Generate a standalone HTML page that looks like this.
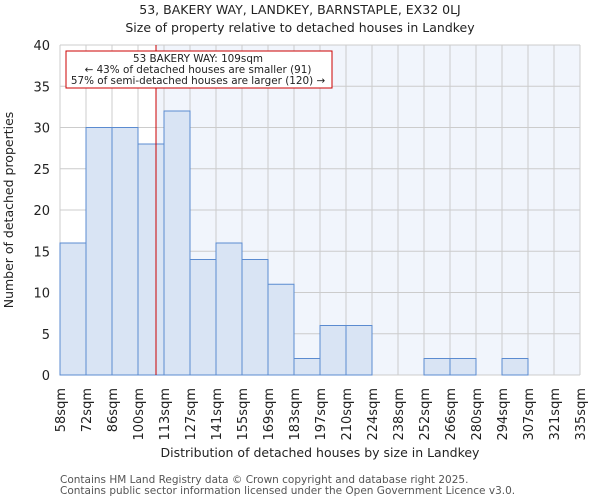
<!DOCTYPE html>
<html><head><meta charset="utf-8"><style>
body{margin:0;background:#fff;font-family:"DejaVu Sans","Liberation Sans",sans-serif}
</style></head><body>
<svg width="600" height="500" xmlns="http://www.w3.org/2000/svg" font-family="DejaVu Sans, Liberation Sans, sans-serif">
<g id="root"></g>
</svg>
<script>
const categories=["58sqm","72sqm","86sqm","100sqm","113sqm","127sqm","141sqm","155sqm","169sqm","183sqm","197sqm","210sqm","224sqm","238sqm","252sqm","266sqm","280sqm","294sqm","307sqm","321sqm","335sqm"];
const counts=[16,30,30,28,32,14,16,14,11,2,6,6,0,0,2,2,0,2,0,0];
const yTicks=[0,5,10,15,20,25,30,35,40];
const binEdges=[58,72,86,100,113,127,141,155,169,183,197,210,224,238,252,266,280,294,307,321,335];
const propertySize=109;
const NS="http://www.w3.org/2000/svg";
const root=document.getElementById('root');
const L=60,R=580,T=45,B=375,yMax=40;
const nb=counts.length,bw=(R-L)/nb;
const xIdx=i=>L+i*bw;
const yS=v=>B-(v/yMax)*(B-T);
function xVal(v){for(let i=0;i<binEdges.length-1;i++){if(v<=binEdges[i+1])return xIdx(i)+(v-binEdges[i])/(binEdges[i+1]-binEdges[i])*bw;}return R;}
function mk(tag,attrs,text){const e=document.createElementNS(NS,tag);for(const k in attrs)e.setAttribute(k,attrs[k]);if(text!==undefined)e.textContent=text;root.appendChild(e);return e;}
const px=xVal(propertySize);
let e=mk('rect',{x:px,y:T,width:R-px,height:B-T,fill:'#f1f5fc'});

for(let i=0;i<=nb;i++){e=mk('line',{x1:xIdx(i),x2:xIdx(i),y1:T,y2:B,stroke:'#cccccc','stroke-width':1});
}
yTicks.forEach(t=>{e=mk('line',{x1:L,x2:R,y1:yS(t),y2:yS(t),stroke:'#cccccc','stroke-width':1});

e=mk('text',{x:L-10,y:yS(t)+5,'text-anchor':'end','font-size':13,fill:'#222'},String(t));
});
counts.forEach((c,i)=>{if(c<=0)return;e=mk('rect',{x:xIdx(i),y:yS(c),width:bw,height:B-yS(c),fill:'#d9e4f4',stroke:'#5b8bd0','stroke-width':1});
});
categories.forEach((c,i)=>{const x=xIdx(i);e=mk('text',{transform:`translate(${x+5},388) rotate(-90)`,'text-anchor':'end','font-size':13,fill:'#222'},c);
});
e=mk('line',{x1:px,x2:px,y1:T,y2:B,stroke:'#cc0000','stroke-width':1});

e=mk('rect',{x:66,y:51,width:266,height:37,fill:'#fff',stroke:'#cc0000','stroke-width':1});

[["53 BAKERY WAY: 109sqm",62],["← 43% of detached houses are smaller (91)",73],["57% of semi-detached houses are larger (120) →",84]].forEach(a=>{
e=mk('text',{x:198,y:a[1],'text-anchor':'middle','font-size':10.4,fill:'#222'},a[0]);
});
e=mk('text',{x:300,y:14,'text-anchor':'middle','font-size':12.5,fill:'#222'},"53, BAKERY WAY, LANDKEY, BARNSTAPLE, EX32 0LJ");

e=mk('text',{x:300,y:32,'text-anchor':'middle','font-size':12.5,fill:'#222'},"Size of property relative to detached houses in Landkey");

e=mk('text',{transform:'translate(13,210) rotate(-90)','text-anchor':'middle','font-size':12.5,fill:'#222'},"Number of detached properties");

e=mk('text',{x:320,y:457,'text-anchor':'middle','font-size':12.5,fill:'#222'},"Distribution of detached houses by size in Landkey");

e=mk('text',{x:60,y:483,'font-size':10.5,fill:'#555'},"Contains HM Land Registry data © Crown copyright and database right 2025.");

e=mk('text',{x:60,y:494,'font-size':10.5,fill:'#555'},"Contains public sector information licensed under the Open Government Licence v3.0.");

</script>
</body></html>
